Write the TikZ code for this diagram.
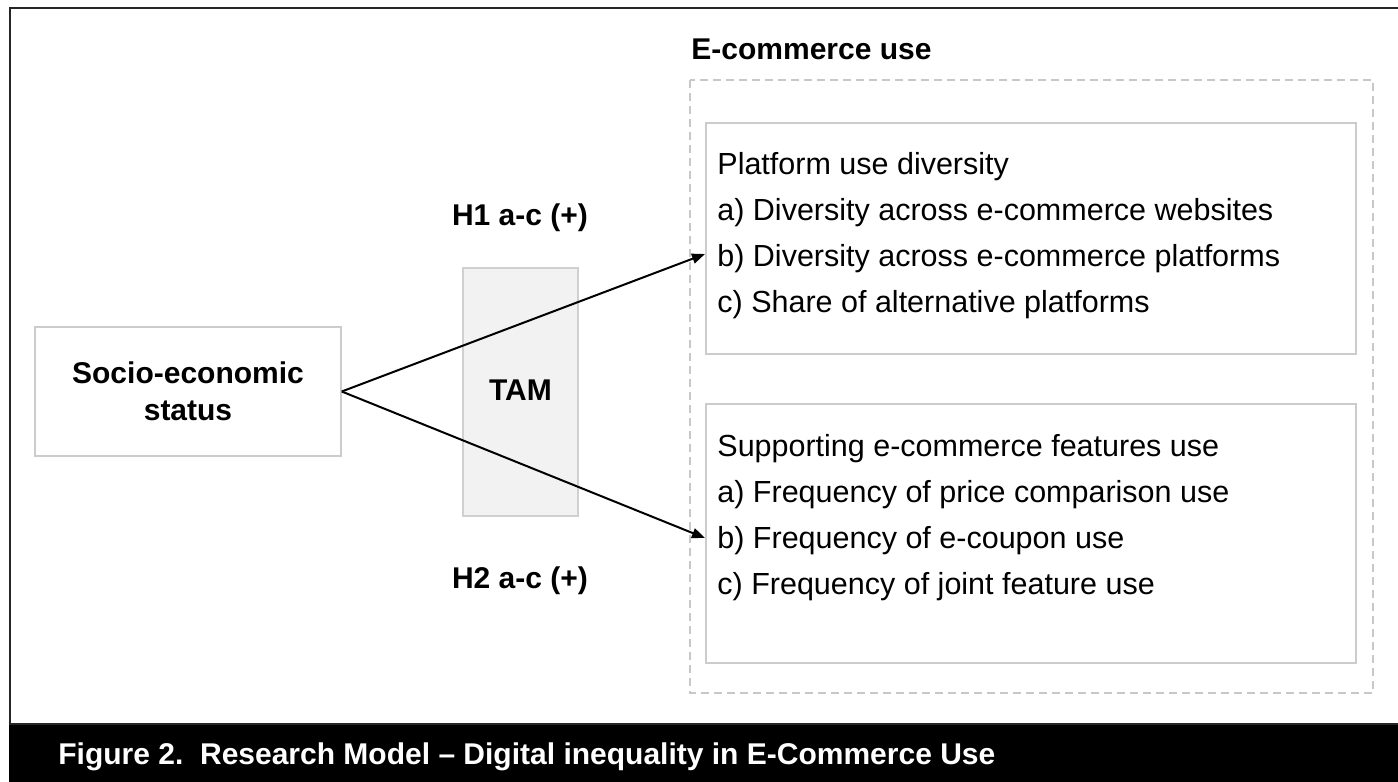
\documentclass[tikz,border=0pt]{standalone}
\usepackage{fontspec}
\setmainfont{Liberation Sans}
\usetikzlibrary{arrows.meta}
\definecolor{boxline}{HTML}{CCCCCC}
\definecolor{tamfill}{HTML}{F2F2F2}
\definecolor{tamline}{HTML}{D0D0D0}
\definecolor{dashline}{HTML}{C8C8C8}
\begin{document}
\begin{tikzpicture}[x=0.5pt,y=-0.5pt,
  txt/.style={inner sep=0pt,anchor=base west,font=\fontsize{15.25pt}{18.5pt}\selectfont},
  btxt/.style={inner sep=0pt,font=\fontsize{15pt}{18.5pt}\selectfont\bfseries},
  plainbox/.style={draw=boxline,line width=0.75pt,rectangle,inner sep=0pt},
  conn/.style={line width=1pt,-{Triangle[length=6.5pt,width=5pt]}}]
\useasboundingbox (0,0) rectangle (1398,782);
\fill[white] (0,0) rectangle (1398,782);
% outer frame
\draw[line width=1pt,black!85] (1398,8) -- (10,8) -- (10,724) -- (1398,724);
\fill[black] (9,725) rectangle (1398,782);
\node[btxt,anchor=base west,text=white] (cap) at (58,764) {Figure 2.\ \ Research Model – Digital inequality in E-Commerce Use};
% e-commerce group
\node[btxt,anchor=base west] (ecl) at (691,59) {E-commerce use};
\draw[dashline,line width=0.75pt,dash pattern=on 4pt off 2.5pt] (690,80) rectangle (1373,693);
% boxes
\node[plainbox,minimum width=325pt,minimum height=115.5pt] (b1) at (1031,238.5) {};
\node[plainbox,minimum width=325pt,minimum height=129.5pt] (b2) at (1031,533.5) {};
\node[txt] (t10) at (717,174) {Platform use diversity};
\node[txt] (t11) at (717,220) {a) Diversity across e-commerce websites};
\node[txt] (t12) at (717,266) {b) Diversity across e-commerce platforms};
\node[txt] (t13) at (717,312) {c) Share of alternative platforms};
\node[txt] (t20) at (717,456) {Supporting e-commerce features use};
\node[txt] (t21) at (717,502) {a) Frequency of price comparison use};
\node[txt] (t22) at (717,548) {b) Frequency of e-coupon use};
\node[txt] (t23) at (717,594) {c) Frequency of joint feature use};
% TAM
\node[rectangle,draw=tamline,fill=tamfill,line width=0.75pt,minimum width=57.5pt,minimum height=124pt,inner sep=0pt] (tam) at (520.5,392) {};
\node[btxt] (taml) at (520.5,390) {TAM};
% SES
\node[plainbox,minimum width=153pt,minimum height=64.5pt,align=center,font=\fontsize{15pt}{18.5pt}\selectfont\bfseries] (ses) at (188,391.5) {Socio-economic\\status};
% hypotheses
\node[btxt,anchor=base] (h1) at (520,225) {H1 a-c (+)};
\node[btxt,anchor=base] (h2) at (520,588) {H2 a-c (+)};
% connectors
\coordinate (e1) at (705,254);
\coordinate (e2) at (705,538);
\draw[conn] (ses.east) -- (e1);
\draw[conn] (ses.east) -- (e2);
\end{tikzpicture}
\end{document}
